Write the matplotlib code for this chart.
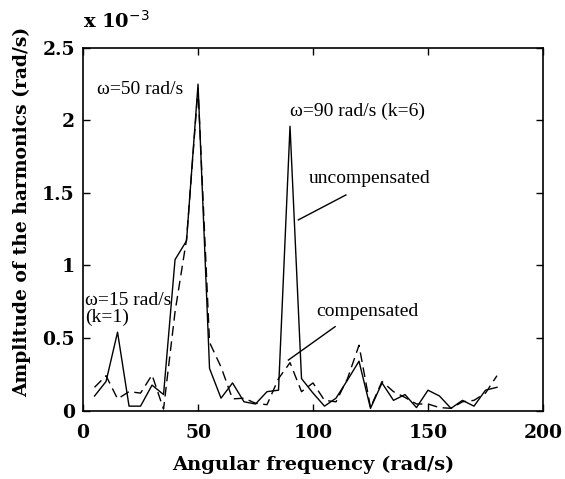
import matplotlib
matplotlib.use('Agg')
import matplotlib.pyplot as plt
from matplotlib.font_manager import FontProperties

# angular frequency samples (rad/s) and harmonic amplitudes (x 1e-3 rad/s)
freq = [5, 10, 15, 20, 25, 30, 35, 40, 45, 50, 55, 60, 65, 70, 75, 80, 85, 90,
        95, 100, 105, 110, 115, 120, 125, 130, 135, 140, 145, 150, 155, 160,
        165, 170, 175, 180]
uncomp = [0.10, 0.20, 0.54, 0.03, 0.03, 0.175, 0.11, 1.04, 1.17, 2.25, 0.29,
          0.085, 0.19, 0.06, 0.045, 0.13, 0.14, 1.96, 0.22, 0.12, 0.03, 0.085,
          0.21, 0.34, 0.015, 0.19, 0.07, 0.11, 0.02, 0.14, 0.10, 0.015, 0.07,
          0.03, 0.14, 0.16]
comp = [0.16, 0.24, 0.08, 0.13, 0.12, 0.245, 0.01, 0.68, 1.18, 2.22, 0.47,
        0.30, 0.08, 0.085, 0.05, 0.04, 0.22, 0.33, 0.13, 0.19, 0.07, 0.06,
        0.22, 0.45, 0.02, 0.20, 0.13, 0.09, 0.045, 0.045, 0.02, 0.015, 0.06,
        0.07, 0.12, 0.24]
xticks = [0, 50, 100, 150, 200]
yticks = [0, 0.5, 1, 1.5, 2, 2.5]
yticklabels = ['0', '0.5', '1', '1.5', '2', '2.5']

serif_bold = dict(family='DejaVu Serif', weight='bold')
note_font = dict(family='Liberation Serif', fontsize=14)

fig = plt.figure(figsize=(5.65, 4.79), dpi=100)
ax = fig.add_axes([0.147, 0.143, 0.814, 0.757])

ax.plot(freq, uncomp, color='black', lw=1.0)
ax.plot(freq, comp, color='black', lw=1.0, linestyle=(0, (7, 4)))

ax.set_xlim(0, 200)
ax.set_ylim(0, 2.5)
ax.set_xticks(xticks)
ax.set_yticks(yticks)
ax.set_yticklabels(yticklabels)
ax.tick_params(direction='in', top=True, right=True, length=5, width=1)
ax.tick_params(axis='x', pad=10)
ax.tick_params(axis='y', pad=6)
tickfont = FontProperties(size=13.5, **serif_bold)
for lab in ax.get_xticklabels() + ax.get_yticklabels():
    lab.set_fontproperties(tickfont)
for s in ax.spines.values():
    s.set_linewidth(1.2)

ax.set_xlabel('Angular frequency (rad/s)', fontsize=14, **serif_bold)
ax.xaxis.set_label_coords(0.5, -0.125)
ax.set_ylabel('Amplitude of the harmonics (rad/s)', fontsize=13.5, **serif_bold)
ax.yaxis.set_label_coords(-0.112, 0.548)
ax.text(0, 1.055, r'x 10$^{-3}$', transform=ax.transAxes, fontsize=14,
        ha='left', va='baseline', **serif_bold)

ax.text(6, 2.21, u'\u03c9=50 rad/s', va='center', **note_font)
ax.text(90, 2.065, u'\u03c9=90 rad/s (k=6)', va='center', **note_font)
ax.text(0.9, 0.70, u'\u03c9=15 rad/s\n(k=1)', va='center', linespacing=1.0, **note_font)
ax.text(98, 1.60, 'uncompensated', va='center', **note_font)
ax.text(101.3, 0.68, 'compensated', va='center', **note_font)
ax.plot([114.3, 93.6], [1.486, 1.314], color='black', lw=1.0)
ax.plot([109.6, 89.3], [0.578, 0.348], color='black', lw=1.0)

fig.savefig('out.png', dpi=100)
